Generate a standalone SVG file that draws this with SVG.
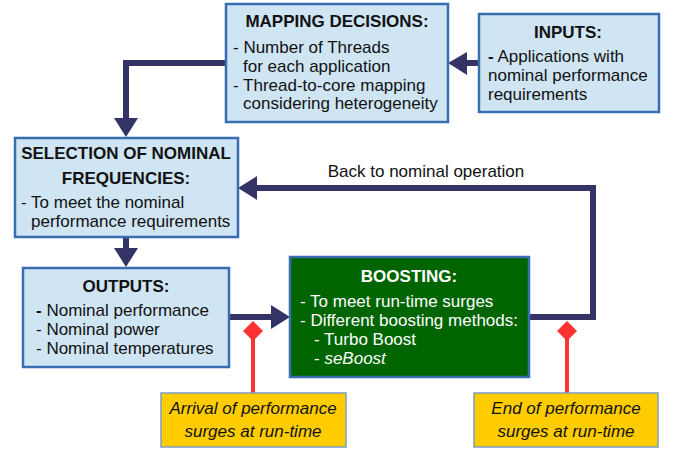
<svg xmlns="http://www.w3.org/2000/svg" width="675" height="450" viewBox="0 0 675 450">
  <style>
    .box { fill: #cfe5f4; stroke: #3a6db0; stroke-width: 2.5; }
    .boost { fill: #006400; stroke: #3a6db0; stroke-width: 2.5; }
    .note { fill: #ffcc00; stroke: #7e9cc4; stroke-width: 1.5; }
    text { font-family: "Liberation Sans", Arial, sans-serif; font-size: 17px; fill: #111; }
    .h { font-weight: bold; text-anchor: middle; }
    .w { fill: #ffffff; }
    .c { text-anchor: middle; }
    .i { font-style: italic; }
    .flow { fill: none; stroke: #333366; stroke-width: 6; stroke-linejoin: miter; }
    .head { fill: #333366; }
    .trig { stroke: #ff3333; stroke-width: 4; fill: none; }
    .dia { fill: #ff3333; }
  </style>

  <!-- connectors -->
  <g id="connectors">
    <!-- inputs -> mapping -->
    <line class="flow" x1="479" y1="63" x2="464" y2="63"/>
    <polygon class="head" points="448,63 467,52 467,75"/>
    <!-- mapping -> selection -->
    <polyline class="flow" points="226,63 126,63 126,120"/>
    <polygon class="head" points="126,137 114,118 138,118"/>
    <!-- selection -> outputs -->
    <line class="flow" x1="126" y1="237" x2="126" y2="250"/>
    <polygon class="head" points="126,267 114,248 138,248"/>
    <!-- outputs -> boosting -->
    <line class="flow" x1="229" y1="317" x2="274" y2="317"/>
    <polygon class="head" points="290,317 271,305 271,329"/>
    <!-- boosting -> back to selection -->
    <polyline class="flow" points="529,317 593,317 593,188 254,188"/>
    <polygon class="head" points="238,188 257,176 257,200"/>
    <text x="426" y="177" class="c">Back to nominal operation</text>
    <!-- surge triggers -->
    <line class="trig" x1="253" y1="338" x2="253" y2="393"/>
    <polygon class="dia" points="253,321 263,331 253,341 243,331"/>
    <line class="trig" x1="567" y1="338" x2="567" y2="393"/>
    <polygon class="dia" points="567,321 577,331 567,341 557,331"/>
  </g>

  <g id="mapping">
    <rect class="box" x="226" y="4" width="222" height="118"/>
    <text x="337" y="27" class="h">MAPPING DECISIONS:</text>
    <text x="233" y="53">- Number of Threads</text>
    <text x="243" y="72">for each application</text>
    <text x="233" y="91">- Thread-to-core mapping</text>
    <text x="243" y="109">considering heterogeneity</text>
  </g>

  <g id="inputs">
    <rect class="box" x="479" y="14" width="180" height="98"/>
    <text x="568" y="38" class="h">INPUTS:</text>
    <text x="488" y="62"><tspan font-weight="bold">-</tspan> Applications with</text>
    <text x="488" y="81">nominal performance</text>
    <text x="488" y="100">requirements</text>
  </g>

  <g id="selection">
    <rect class="box" x="15" y="138" width="223" height="99"/>
    <text x="126" y="159" class="h">SELECTION OF NOMINAL</text>
    <text x="126" y="184" class="h">FREQUENCIES:</text>
    <text x="21" y="208">- To meet the nominal</text>
    <text x="31" y="227">performance requirements</text>
  </g>

  <g id="outputs">
    <rect class="box" x="23" y="268" width="206" height="99"/>
    <text x="126" y="292" class="h">OUTPUTS:</text>
    <text x="36" y="316"><tspan font-weight="bold">-</tspan> Nominal performance</text>
    <text x="36" y="335">- Nominal power</text>
    <text x="36" y="354">- Nominal temperatures</text>
  </g>

  <g id="boosting">
    <rect class="boost" x="290" y="257" width="239" height="120"/>
    <text x="409" y="282" class="h w">BOOSTING:</text>
    <text x="300" y="307" class="w">- To meet run-time surges</text>
    <text x="300" y="326" class="w">- Different boosting methods:</text>
    <text x="314" y="345" class="w">- Turbo Boost</text>
    <text x="314" y="364" class="w">- <tspan class="i">seBoost</tspan></text>
  </g>

  <g id="arrival">
    <rect class="note" x="161" y="393" width="185" height="54"/>
    <text x="253" y="414" class="c i">Arrival of performance</text>
    <text x="253" y="437" class="c i">surges at run-time</text>
  </g>

  <g id="end">
    <rect class="note" x="474" y="393" width="184" height="54"/>
    <text x="566" y="414" class="c i">End of performance</text>
    <text x="566" y="437" class="c i">surges at run-time</text>
  </g>
</svg>
